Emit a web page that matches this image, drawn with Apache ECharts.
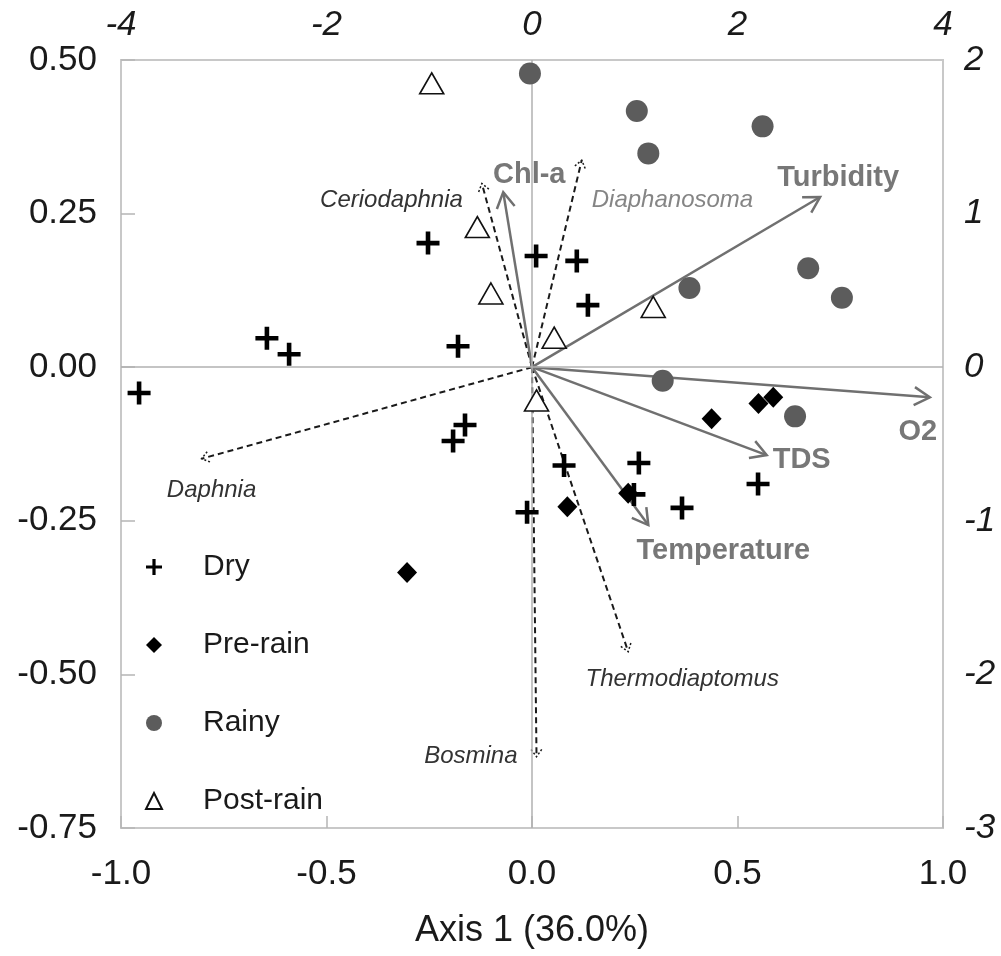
<!DOCTYPE html>
<html>
<head>
<meta charset="utf-8">
<script src="https://cdn.jsdelivr.net/npm/echarts@6/dist/echarts.min.js"></script>
<style>
  html, body { margin: 0; padding: 0; background: #fff; }
  #chart { width: 1001px; height: 956px; }
</style>
</head>
<body>
<div id="chart"></div>
<script>
// Sample scores by season (Axis 1, Axis 2)
const dryX = [-0.956, -0.645, -0.591, -0.253, -0.180, 0.010, 0.109, 0.136, -0.163, -0.192, 0.078, 0.260, 0.248, -0.012, 0.365, 0.550];
const dryY = [-0.042, 0.047, 0.021, 0.202, 0.034, 0.181, 0.173, 0.101, -0.094, -0.120, -0.160, -0.156, -0.207, -0.236, -0.229, -0.190];

const preRainX = [-0.304, 0.086, 0.234, 0.437, 0.551, 0.587];
const preRainY = [-0.334, -0.227, -0.205, -0.084, -0.059, -0.049];

const rainyX = [-0.005, 0.255, 0.283, 0.561, 0.383, 0.672, 0.754, 0.318, 0.640];
const rainyY = [0.478, 0.417, 0.348, 0.392, 0.129, 0.161, 0.113, -0.022, -0.080];

const postRainX = [-0.244, -0.133, -0.100, 0.054, 0.295, 0.011];
const postRainY = [0.462, 0.228, 0.120, 0.048, 0.098, -0.054];

// Environmental variable vectors
const envNames = ['Chl-a', 'Turbidity', 'O2', 'TDS', 'Temperature'];
const envX = [-0.070, 0.701, 0.968, 0.571, 0.283];
const envY = [0.285, 0.277, -0.049, -0.143, -0.257];

// Species vectors
const sppNames = ['Ceriodaphnia', 'Diaphanosoma', 'Daphnia', 'Thermodiaptomus', 'Bosmina'];
const sppX = [-0.122, 0.121, -0.804, 0.234, 0.011];
const sppY = [0.299, 0.337, -0.149, -0.463, -0.634];

// Axis ticks
const axis1Ticks = [-1.0, -0.5, 0.0, 0.5, 1.0];
const axis2Ticks = [-0.75, -0.5, -0.25, 0.0, 0.25, 0.5];
const topTicks = [-4, -2, 0, 2, 4];
const rightTicks = [-3, -2, -1, 0, 1, 2];

// Label placement around each vector tip: [dx, dy, align]
const envLabelPlace = {
  'Chl-a': [26, -17, 'center'],
  'Turbidity': [18, -19, 'center'],
  'O2': [-12, 35, 'center'],
  'TDS': [6, 5, 'left'],
  'Temperature': [75, 26, 'center']
};
const sppLabelPlace = {
  'Ceriodaphnia': [-19, 17, 'right', '#333'],
  'Diaphanosoma': [10, 40, 'left', '#858585'],
  'Daphnia': [10, 32, 'center', '#333'],
  'Thermodiaptomus': [54, 28, 'center', '#333'],
  'Bosmina': [-19, 0, 'right', '#333']
};

const FONT = '"Liberation Sans", Arial, sans-serif';
const PLUS = 'path://M4,0h2v4h4v2h-4v4h-2v-4h-4v-2h4z';

function pairs(xs, ys) { return xs.map((x, i) => [x, ys[i]]); }

function arrowHead(o, t, len, ang) {
  const dx = t[0] - o[0], dy = t[1] - o[1];
  const L = Math.hypot(dx, dy) || 1;
  const ux = dx / L, uy = dy / L;
  const c = Math.cos(ang), s = Math.sin(ang);
  const b1 = [t[0] - len * (ux * c - uy * s), t[1] - len * (uy * c + ux * s)];
  const b2 = [t[0] - len * (ux * c + uy * s), t[1] - len * (uy * c - ux * s)];
  return [b1, t, b2];
}

function renderVector(names, places, kind) {
  return function (params, api) {
    const name = names[params.dataIndex];
    const o = api.coord([0, 0]);
    const t = api.coord([api.value(0), api.value(1)]);
    const p = places[name];
    const isEnv = kind === 'env';
    const stroke = isEnv ? '#707070' : '#1a1a1a';
    const lineStyle = isEnv
      ? { stroke: stroke, lineWidth: 2.5, fill: null }
      : { stroke: stroke, lineWidth: 2, lineDash: [6, 4], fill: null };
    const head = arrowHead(o, t, isEnv ? 18 : 9, isEnv ? Math.PI / 6 : Math.PI / 5);
    return {
      type: 'group',
      children: [
        { type: 'line', shape: { x1: o[0], y1: o[1], x2: t[0], y2: t[1] }, style: lineStyle },
        { type: 'polyline', shape: { points: head },
          style: isEnv ? { stroke: stroke, lineWidth: 2.5, fill: null }
                       : { stroke: stroke, lineWidth: 1.5, lineDash: [2, 2], fill: null } },
        { type: 'text', x: t[0] + p[0], y: t[1] + p[1],
          style: isEnv
            ? { text: name, align: p[2], verticalAlign: 'middle', fill: '#777',
                font: 'bold 29px ' + FONT }
            : { text: name, align: p[2], verticalAlign: 'middle', fill: p[3],
                font: 'italic 24px ' + FONT } }
      ]
    };
  };
}

const chart = echarts.init(document.getElementById('chart'), null, { renderer: 'canvas' });

const labelFont = { fontFamily: FONT, fontSize: 35, color: '#1a1a1a' };

const option = {
  backgroundColor: '#fff',
  animation: false,
  grid: {
    left: 121, right: 58, top: 60, bottom: 128,
    show: true, borderColor: '#c8c8c8', borderWidth: 2, backgroundColor: 'transparent'
  },
  legend: {
    orient: 'vertical', left: 140, top: 547,
    itemWidth: 16, itemHeight: 16, itemGap: 48,
    textStyle: { fontFamily: FONT, fontSize: 30, color: '#1a1a1a', lineHeight: 30,
                 padding: [0, 0, 0, 36] },
    data: ['Dry', 'Pre-rain', 'Rainy', 'Post-rain']
  },
  xAxis: [
    {
      type: 'value', position: 'bottom', min: axis1Ticks[0], max: axis1Ticks[axis1Ticks.length - 1],
      interval: 0.5,
      name: 'Axis 1 (36.0%)', nameLocation: 'middle', nameGap: 85,
      nameTextStyle: { fontFamily: FONT, fontSize: 36, color: '#1a1a1a' },
      axisLine: { show: false, onZero: false },
      axisTick: { show: true, inside: true, length: 12, lineStyle: { color: '#b5b5b5', width: 1.5 } },
      splitLine: { show: false },
      axisLabel: Object.assign({ margin: 29, formatter: v => v.toFixed(1) }, labelFont)
    },
    {
      type: 'value', position: 'top', min: topTicks[0], max: topTicks[topTicks.length - 1],
      interval: 2,
      axisLine: { show: false, onZero: false }, axisTick: { show: false }, splitLine: { show: false },
      axisLabel: Object.assign({ margin: 17, fontStyle: 'italic', formatter: v => String(v) }, labelFont)
    }
  ],
  yAxis: [
    {
      type: 'value', position: 'left', min: axis2Ticks[0], max: axis2Ticks[axis2Ticks.length - 1],
      interval: 0.25,
      axisLine: { show: false, onZero: false },
      axisTick: { show: true, inside: true, length: 14, lineStyle: { color: '#b5b5b5', width: 1.5 } },
      splitLine: { show: false },
      axisLabel: Object.assign({ margin: 24, padding: [14, 0, 0, 0], formatter: v => v.toFixed(2) }, labelFont)
    },
    {
      type: 'value', position: 'right', min: rightTicks[0], max: rightTicks[rightTicks.length - 1],
      interval: 1,
      axisLine: { show: false, onZero: false }, axisTick: { show: false }, splitLine: { show: false },
      axisLabel: Object.assign({ margin: 21, padding: [14, 0, 0, 0], fontStyle: 'italic',
                                 formatter: v => String(v) }, labelFont)
    }
  ],
  series: [
    {
      name: 'axes-origin', type: 'custom', z: 1, silent: true,
      data: pairs(sppX, sppY),
      renderItem: renderVector(sppNames, sppLabelPlace, 'spp'),
      markLine: {
        silent: true, symbol: 'none', label: { show: false },
        lineStyle: { color: '#b0b0b0', width: 1.5, type: 'solid' },
        data: [{ xAxis: 0 }, { yAxis: 0 }]
      }
    },
    {
      name: 'environment', type: 'custom', z: 2, silent: true,
      data: pairs(envX, envY),
      renderItem: renderVector(envNames, envLabelPlace, 'env')
    },
    {
      name: 'Dry', type: 'scatter', z: 5, symbol: PLUS, symbolSize: 23,
      itemStyle: { color: '#000', opacity: 1 },
      data: pairs(dryX, dryY)
    },
    {
      name: 'Pre-rain', type: 'scatter', z: 5, symbol: 'diamond', symbolSize: [20, 21],
      itemStyle: { color: '#000', opacity: 1 },
      data: pairs(preRainX, preRainY)
    },
    {
      name: 'Rainy', type: 'scatter', z: 5, symbol: 'circle', symbolSize: 22,
      itemStyle: { color: '#5c5c5c', opacity: 1 },
      data: pairs(rainyX, rainyY)
    },
    {
      name: 'Post-rain', type: 'scatter', z: 5, symbol: 'triangle', symbolSize: [24, 21],
      itemStyle: { color: '#fff', borderColor: '#111', borderWidth: 1.6, opacity: 1 },
      data: pairs(postRainX, postRainY)
    }
  ]
};

chart.setOption(option);
</script>
</body>
</html>
